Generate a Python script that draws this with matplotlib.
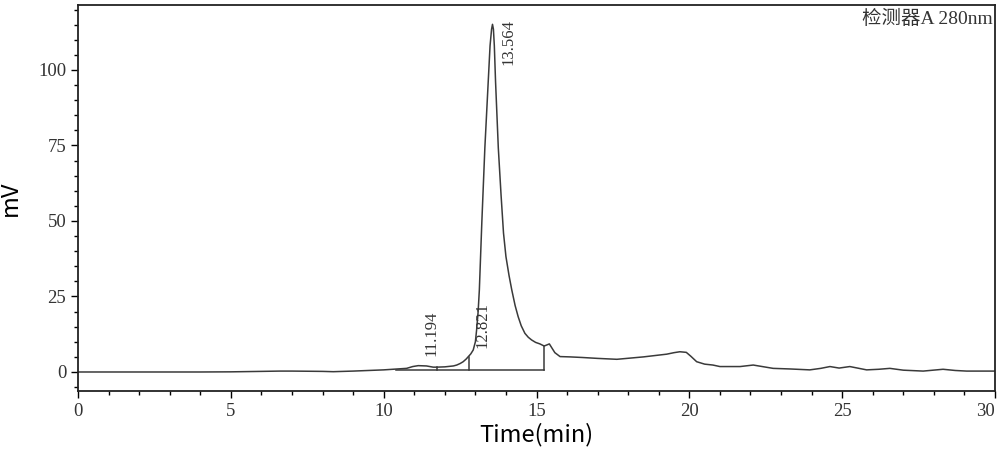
import matplotlib.pyplot as plt
import matplotlib as mpl
from matplotlib.ticker import MultipleLocator

# chromatogram trace (time in min, signal in mV)
time = [0, 2, 4, 5, 6, 6.6, 7, 8, 8.35, 9, 10, 10.3, 10.75, 10.95, 11.13, 11.4, 11.62,
        11.73, 12.0, 12.28, 12.39, 12.5, 12.6, 12.7, 12.77, 12.85, 12.93, 13.0, 13.04,
        13.09, 13.13, 13.21, 13.31, 13.42, 13.48, 13.53, 13.56, 13.59, 13.62, 13.66,
        13.75, 13.84, 13.92, 14.0, 14.1, 14.19, 14.3, 14.4, 14.5, 14.62, 14.73, 14.84,
        14.97, 15.11, 15.25, 15.35, 15.42, 15.5, 15.6, 15.77, 16.09, 16.5, 17.0, 17.63,
        18.5, 19.26, 19.5, 19.69, 19.9, 20.05, 20.24, 20.5, 20.77, 21.0, 21.66, 22.09,
        22.74, 23.3, 23.94, 24.3, 24.6, 24.9, 25.25, 25.8, 26.2, 26.56, 27.0, 27.65,
        28.3, 28.7, 29.07, 30]
signal = [0, 0, 0, 0.05, 0.2, 0.3, 0.3, 0.2, 0.1, 0.3, 0.7, 0.9, 1.2, 1.8, 2.1, 2.0, 1.6,
          1.6, 1.7, 2.0, 2.3, 2.8, 3.4, 4.3, 5.1, 6.0, 7.3, 10.0, 13.9,
          20.0, 27.2, 49.3, 74.2, 96.1, 108, 113.5, 115.1, 113.5, 108, 96.1,
          74.2, 58.6, 46.0, 38.2, 32.0, 27.2, 22.0, 18.3, 15.3, 12.8, 11.5, 10.6,
          9.8, 9.3, 8.6, 9.0, 9.3, 8.0, 6.4, 5.1, 5.0, 4.8, 4.5, 4.2,
          5.0, 5.9, 6.4, 6.7, 6.5, 5.2, 3.4, 2.6, 2.3, 1.8, 1.8, 2.3,
          1.2, 1.0, 0.7, 1.2, 1.8, 1.3, 1.8, 0.7, 0.9, 1.2, 0.6, 0.3,
          0.9, 0.5, 0.3, 0.3]

# integration baseline and peak boundaries
base_t = [10.4, 15.26]
base_v = 0.6
drop_t = [11.73, 12.78, 15.26]
drop_top = [1.6, 5.1, 8.6]

# peak labels
peak_lbl = ['11.194', '12.821', '13.564']
lbl_x = [11.58, 13.22, 14.07]
lbl_y = [5.3, 8.0, 101.5]

mpl.rcParams['font.family'] = ['Liberation Serif', 'Noto Sans CJK SC']

fig = plt.figure(figsize=(9.99, 4.67), dpi=100)
ax = fig.add_axes([0.0781, 0.1627, 0.9179, 0.8266])

ax.plot(time, signal, color='#3a3a3a', lw=1.1)
ax.plot(base_t, [base_v, base_v], color='#3a3a3a', lw=1.1)
for t, v in zip(drop_t, drop_top):
    ax.plot([t, t], [base_v, v], color='#3a3a3a', lw=1.1)

for s, x, y in zip(peak_lbl, lbl_x, lbl_y):
    ax.text(x, y, s, rotation=90, ha='center', va='bottom', fontsize=12,
            color='#333333')

ax.text(0.998, 0.988, '检测器A 280nm', transform=ax.transAxes, ha='right',
        va='top', fontsize=14, color='#333333',
        family=['Liberation Serif', 'Noto Sans CJK SC'])

ax.set_xlim(0, 30)
ax.set_ylim(-6.3, 121.5)
ax.xaxis.set_major_locator(MultipleLocator(5))
ax.xaxis.set_minor_locator(MultipleLocator(1))
ax.yaxis.set_major_locator(MultipleLocator(25))
ax.yaxis.set_minor_locator(MultipleLocator(5))
ax.tick_params(which='major', direction='out', length=5, width=1,
               labelsize=13.5, labelcolor='#333333')
ax.tick_params(which='minor', direction='out', length=3, width=1)
for sp in ax.spines.values():
    sp.set_linewidth(1.3)
    sp.set_color('#222222')
# last x label sits at the figure edge, nudge it inside like the reference
fig.canvas.draw()
for lbl in ax.get_xticklabels():
    if lbl.get_text() == '30':
        lbl.set_horizontalalignment('right')
        lbl.set_x(30.3)

ax.set_xlabel('Time(min)', fontsize=17, family=['Noto Sans CJK SC'], labelpad=2,
              color='black')
ax.set_ylabel('mV', fontsize=17, family=['Noto Sans CJK SC'], labelpad=12,
              color='black')

plt.savefig('out.png', dpi=100)
